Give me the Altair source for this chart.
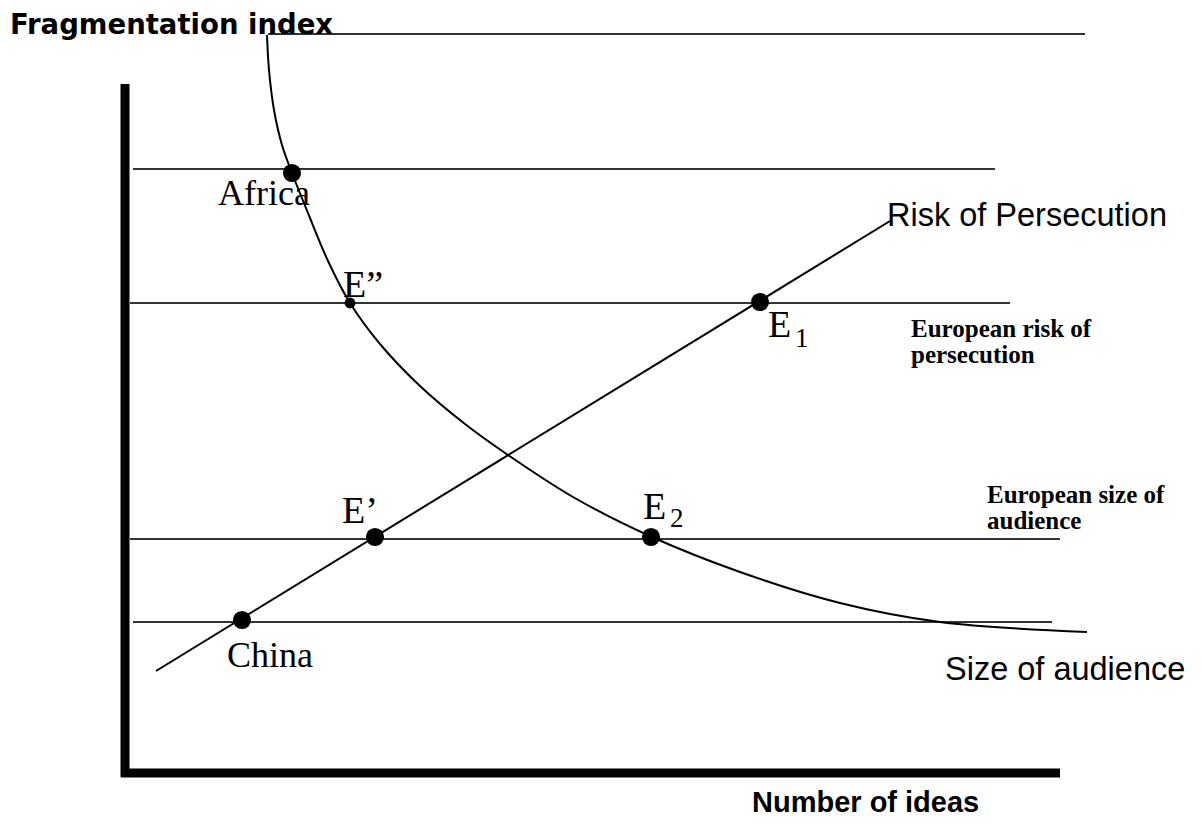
import altair as alt
import pandas as pd

# Diagram coordinates: origin at the corner of the two axes
# x = number of ideas, y = fragmentation index (arbitrary units)

# Size-of-audience curve
curve_x = [142, 144, 149, 157, 167, 183, 203, 225, 255, 295, 340, 383, 448, 527, 615, 715, 815, 962]
curve_y = [738, 703, 663, 628, 600, 560, 512, 470, 429, 387, 349, 318, 276, 236, 201, 170, 151, 141]

# Risk-of-persecution line
risk_x = [31, 765]
risk_y = [102, 552]

# Horizontal level lines
level_y = [739, 604, 470, 234, 151]
level_x0 = [143, 8, 5, 5, 8]
level_x1 = [960, 870, 885, 935, 927]

# Axes (thick bars)
axis_x0 = [0, -4]
axis_x1 = [0, 935]
axis_y0 = [-4, 0]
axis_y1 = [689, 0]

# Equilibrium points
pt_name = ["Africa", "E''", "E1", "E'", "E2", "China"]
pt_x = [167, 225, 635, 250, 526, 117]
pt_y = [600, 470, 471, 236, 236, 153]
pt_size = [330, 120, 330, 330, 330, 330]

# Labels
title_text = ["Fragmentation index"]
title_x = [-115]
title_y = [739]
title_size = [27.5]

sans_bold_text = ["Number of ideas"]
sans_bold_x = [627]
sans_bold_y = [-38.5]
sans_bold_size = [29]

sans_text = ["Risk of Persecution", "Size of audience"]
sans_x = [762, 820]
sans_y = [547, 93]
sans_size = [32.5, 32.5]

serif_text = ["Africa", "China", "E\u201d", "E", "E\u2019", "E", "1", "2"]
serif_x = [93, 102, 218, 643, 217, 518, 670, 545]
serif_y = [568, 106, 476, 436, 250, 254, 426, 246]
serif_size = [36, 36, 38, 38, 38, 38, 27, 27]

serif_bold_text = ["European risk of\npersecution", "European size of\naudience"]
serif_bold_x = [786, 862]
serif_bold_y = [436, 270]
serif_bold_size = [25, 25]

X_DOMAIN = [-117, 1069]
Y_DOMAIN = [-45, 765]

xs = alt.Scale(domain=X_DOMAIN, nice=False, zero=False)
ys = alt.Scale(domain=Y_DOMAIN, nice=False, zero=False)


def X(f="x"):
    return alt.X(f, type="quantitative", scale=xs, axis=None)


def Y(f="y"):
    return alt.Y(f, type="quantitative", scale=ys, axis=None)


curve_df = pd.DataFrame({"x": curve_x, "y": curve_y, "o": list(range(len(curve_x)))})
risk_df = pd.DataFrame({"x": risk_x, "y": risk_y})
level_df = pd.DataFrame({"x": level_x0, "x2": level_x1, "y": level_y})
axis_df = pd.DataFrame({"x": axis_x0, "x2": axis_x1, "y": axis_y0, "y2": axis_y1})
pt_df = pd.DataFrame({"name": pt_name, "x": pt_x, "y": pt_y, "s": pt_size})

curve = alt.Chart(curve_df).mark_line(
    color="black", strokeWidth=2, interpolate="catmull-rom"
).encode(x=X(), y=Y(), order="o:Q")

risk = alt.Chart(risk_df).mark_line(color="black", strokeWidth=2).encode(x=X(), y=Y())

levels = alt.Chart(level_df).mark_rule(color="#333333", strokeWidth=2).encode(
    x=X(), x2="x2:Q", y=Y()
)

axes = alt.Chart(axis_df).mark_rule(color="black", strokeWidth=9).encode(
    x=X(), x2="x2:Q", y=Y(), y2="y2:Q"
)

points = alt.Chart(pt_df).mark_circle(color="black", opacity=1).encode(
    x=X(), y=Y(), size=alt.Size("s:Q", scale=None, legend=None)
)


def text_layer(texts, xv, yv, sizes, font, weight, **kw):
    df = pd.DataFrame({"t": texts, "x": xv, "y": yv, "s": sizes})
    return alt.Chart(df).mark_text(
        align="left", baseline="alphabetic", font=font, fontWeight=weight, color="black", **kw
    ).encode(
        x=X(), y=Y(), text="t:N", size=alt.Size("s:Q", scale=None, legend=None)
    )


t0 = text_layer(title_text, title_x, title_y, title_size, "DejaVu Sans", "bold")
t1 = text_layer(sans_bold_text, sans_bold_x, sans_bold_y, sans_bold_size, "Liberation Sans", "bold")
t2 = text_layer(sans_text, sans_x, sans_y, sans_size, "Liberation Sans", "normal")
t3 = text_layer(serif_text, serif_x, serif_y, serif_size, "Liberation Serif", "normal")
t5 = text_layer(serif_bold_text, serif_bold_x, serif_bold_y, serif_bold_size,
                "Liberation Serif", "bold", lineBreak="\n", lineHeight=26)

chart = alt.layer(levels, curve, risk, axes, points, t0, t1, t2, t3, t5).properties(
    width=1186, height=810, padding=0, autosize="none", background="white"
).configure_view(stroke=None)

chart.save("out.html", embed_options={"renderer": "svg", "actions": False})
